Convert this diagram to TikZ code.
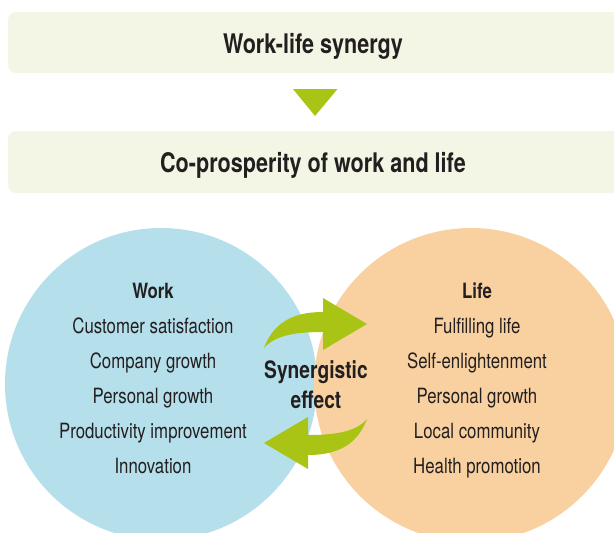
\documentclass[tikz,border=0pt]{standalone}
\usepackage{fontspec}
\setmainfont[FakeStretch=0.80]{TeX Gyre Heros}
\definecolor{boxfill}{HTML}{F3F6E4}
\definecolor{workblue}{HTML}{B5E0EB}
\definecolor{lifeorange}{HTML}{F9D1A0}
\definecolor{arrowgreen}{HTML}{A9C414}
\definecolor{ink}{HTML}{231F20}
\tikzset{
  banner/.style={fill=boxfill, rounded corners=8pt},
  title/.style={text=ink, font=\fontsize{27}{29}\selectfont\bfseries, inner sep=0pt, anchor=base},
  head/.style={text=ink, font=\fontsize{21}{23}\selectfont\bfseries, inner sep=0pt, anchor=base},
  item/.style={text=ink, font=\fontsize{21}{23}\selectfont, inner sep=0pt, anchor=base},
  syn/.style={text=ink, font=\fontsize{24}{26}\selectfont\bfseries, inner sep=0pt, anchor=base},
  bubble/.style={circle, inner sep=0pt, minimum size=#1},
  greenarrow/.style={fill=arrowgreen},
}
\begin{document}
\begin{tikzpicture}[x=1pt,y=-1pt]
\useasboundingbox (0,0) rectangle (614,533);
\clip (0,0) rectangle (614,533);
% banners
\fill[banner] (8,12) rectangle (640,73);
\fill[banner] (8,131) rectangle (640,193);
\node[title] (t1) at (313,53) {Work-life synergy};
\node[title] (t2) at (313,172) {Co-prosperity of work and life};
\fill[arrowgreen] (293,89) -- (337.5,89) -- (315,116) -- cycle;
% circles
\node[bubble=312pt, fill=workblue] (work) at (161,384) {};
\node[bubble=314pt, fill=lifeorange] (life) at (471,385) {};
% arrows
\fill[greenarrow] (264,348) .. controls (275,318) and (300,312) .. (323,312)
  -- (323,298) -- (367,324) -- (323,350) -- (323,332)
  .. controls (300,332) and (276,334) .. (264,348) -- cycle;
\fill[greenarrow] (367,419) .. controls (356,449) and (331,455) .. (308,455)
  -- (308,469) -- (264,443) -- (308,417) -- (308,435)
  .. controls (331,435) and (355,433) .. (367,419) -- cycle;
% texts
\node[head] (wh) at (153,298) {Work};
\node[item] (w1) at (153,333) {Customer satisfaction};
\node[item] (w2) at (153,368) {Company growth};
\node[item] (w3) at (153,403) {Personal growth};
\node[item] (w4) at (153,438) {Productivity improvement};
\node[item] (w5) at (153,473) {Innovation};
\node[head] (lh) at (477,298) {Life};
\node[item] (l1) at (477,333) {Fulfilling life};
\node[item] (l2) at (477,368) {Self-enlightenment};
\node[item] (l3) at (477,403) {Personal growth};
\node[item] (l4) at (477,438) {Local community};
\node[item] (l5) at (477,473) {Health promotion};
\node[syn] (s1) at (316,378) {Synergistic};
\node[syn] (s2) at (316,408) {effect};
\end{tikzpicture}
\end{document}
